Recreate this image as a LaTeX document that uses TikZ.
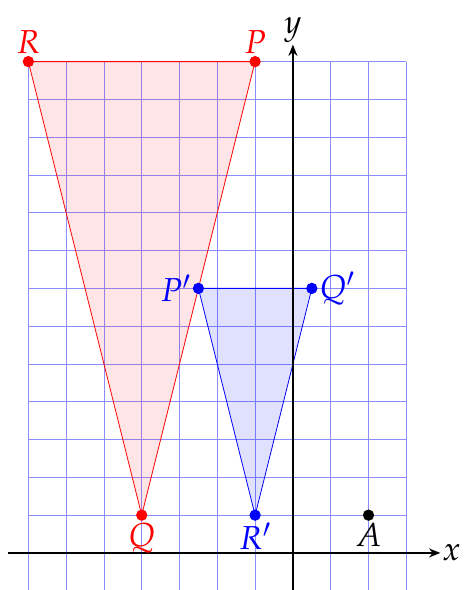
\documentclass[tikz,border=0pt]{standalone}
\usepackage{mathpazo}
\usetikzlibrary{arrows.meta}
\begin{document}
\begin{tikzpicture}[
 dot/.style={circle,fill,inner sep=0pt,minimum size=3mm},
 lbl/.style={font=\fontsize{25}{30}\selectfont,inner sep=1pt},
 arrow/.style={-{Stealth[length=3mm,width=2.4mm]},line width=1.2pt}]
\useasboundingbox (-7.75,-0.98) rectangle (4.58,14.63);
\draw[blue!45,line width=0.5pt] (-7,-1) grid (3,13);
% original triangle
\coordinate (R) at (-7,13);
\coordinate (P) at (-1,13);
\coordinate (Q) at (-4,1);
\fill[red,fill opacity=0.1] (R)--(P)--(Q)--cycle;
\draw[red,line width=0.6pt] (R)--(P)--(Q)--cycle;
% image triangle
\coordinate (P') at (-2.5,7);
\coordinate (Q') at (0.5,7);
\coordinate (R') at (-1,1);
\fill[blue,fill opacity=0.12] (P')--(Q')--(R')--cycle;
\draw[blue,line width=0.6pt] (P')--(Q')--(R')--cycle;
% axes
\coordinate (xmin) at (-7.55,0);
\coordinate (ymin) at (0,-1);
\draw[arrow] (xmin)--(3.9,0) node[lbl,right] (xl) {$x$};
\draw[arrow] (ymin)--(0,13.45) node[lbl,above] (yl) {$y$};
% points
\node[dot,red,label={[lbl,red]above:$R$}] (r) at (R) {};
\node[dot,red,label={[lbl,red]above:$P$}] (p) at (P) {};
\node[dot,red,label={[lbl,red]below:$Q$}] (q) at (Q) {};
\node[dot,blue,label={[lbl,blue]left:$P'$}] (p1) at (P') {};
\node[dot,blue,label={[lbl,blue]right:$Q'$}] (q1) at (Q') {};
\node[dot,blue,label={[lbl,blue]below:$R'$}] (r1) at (R') {};
\node[dot,label={[lbl]below:$A$}] (a) at (2,1) {};
\end{tikzpicture}
\end{document}
